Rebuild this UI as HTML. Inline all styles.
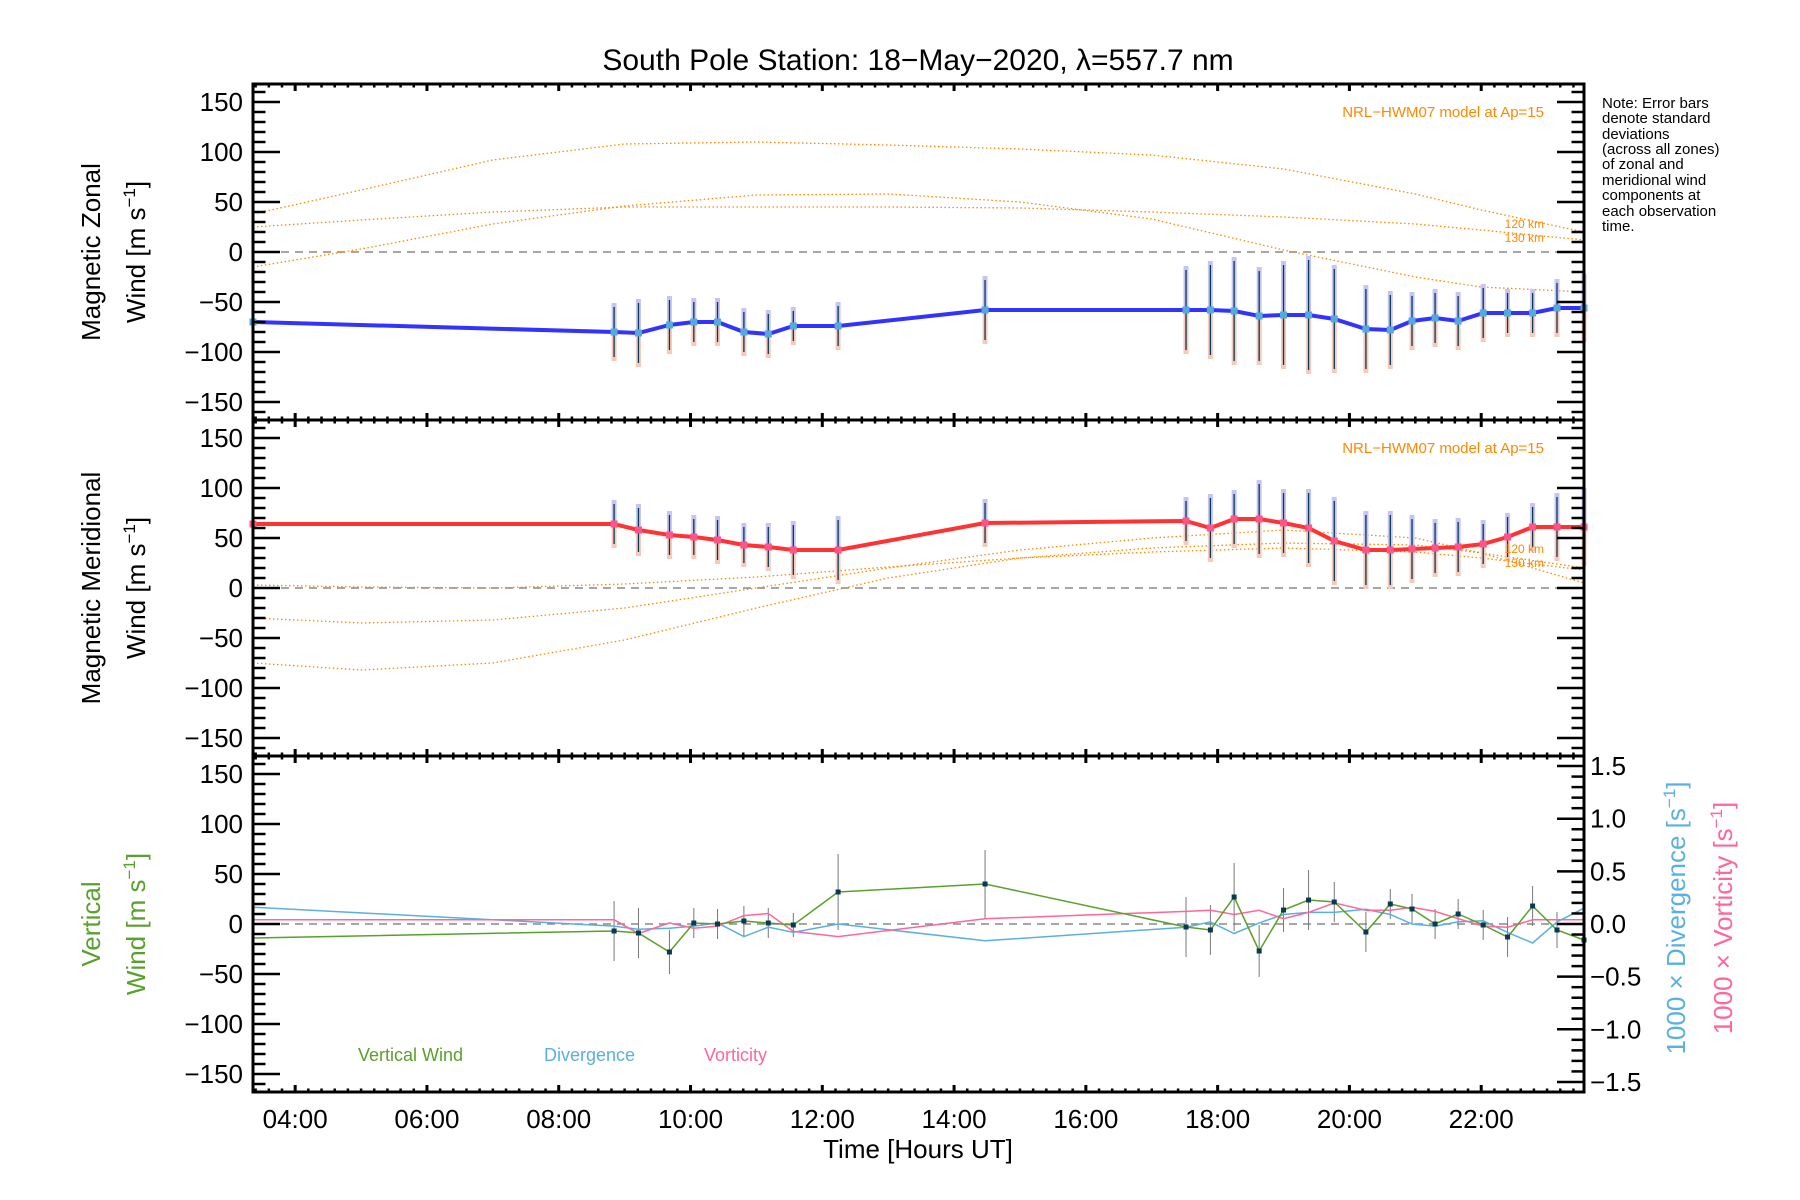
<!DOCTYPE html>
<html><head><meta charset="utf-8"><style>
html,body{margin:0;padding:0;background:#fff}
svg{display:block;font-family:"Liberation Sans",sans-serif}
</style></head><body>
<svg id="chart" xmlns="http://www.w3.org/2000/svg" width="1800" height="1200" viewBox="0 0 1800 1200">
<rect width="1800" height="1200" fill="#fff"/>
<g id="marks"></g>
<g id="axes"></g>
<text x="918" y="70" font-size="30" text-anchor="middle">South Pole Station: 18−May−2020, λ=557.7 nm</text>
<g font-size="15" fill="#000">
<text x="1602" y="108">Note: Error bars</text>
<text x="1602" y="123">denote standard</text>
<text x="1602" y="139">deviations</text>
<text x="1602" y="154">(across all zones)</text>
<text x="1602" y="169">of zonal and</text>
<text x="1602" y="185">meridional wind</text>
<text x="1602" y="200">components at</text>
<text x="1602" y="216">each observation</text>
<text x="1602" y="231">time.</text>
</g>
<text transform="translate(100,252) rotate(-90)" font-size="26" text-anchor="middle">Magnetic Zonal</text>
<text transform="translate(145,252) rotate(-90)" font-size="26" text-anchor="middle">Wind [m s<tspan dy="-10" font-size="17">−1</tspan><tspan dy="10">]</tspan></text>
<text transform="translate(100,588) rotate(-90)" font-size="26" text-anchor="middle">Magnetic Meridional</text>
<text transform="translate(145,588) rotate(-90)" font-size="26" text-anchor="middle">Wind [m s<tspan dy="-10" font-size="17">−1</tspan><tspan dy="10">]</tspan></text>
<text transform="translate(100,924) rotate(-90)" font-size="26" text-anchor="middle" fill="#5aa02c">Vertical</text>
<text transform="translate(145,924) rotate(-90)" font-size="26" text-anchor="middle" fill="#5aa02c">Wind [m s<tspan dy="-10" font-size="17">−1</tspan><tspan dy="10">]</tspan></text>
<text transform="translate(1685,918) rotate(-90)" font-size="26" text-anchor="middle" fill="#5ab0e0">1000 × Divergence [s<tspan dy="-10" font-size="17">−1</tspan><tspan dy="10">]</tspan></text>
<text transform="translate(1732,918) rotate(-90)" font-size="26" text-anchor="middle" fill="#ff6699">1000 × Vorticity [s<tspan dy="-10" font-size="17">−1</tspan><tspan dy="10">]</tspan></text>
<text x="918" y="1158" font-size="26" text-anchor="middle">Time [Hours UT]</text>
<text x="1544" y="117" font-size="15" text-anchor="end" fill="#ff8800">NRL−HWM07 model at Ap=15</text>
<text x="1544" y="453" font-size="15" text-anchor="end" fill="#ff8800">NRL−HWM07 model at Ap=15</text>
<g font-size="12" fill="#ff8800" text-anchor="end">
<text x="1544" y="228">120 km</text><text x="1544" y="242">130 km</text>
<text x="1544" y="553">120 km</text><text x="1544" y="567">130 km</text>
</g>
<text x="358" y="1061" font-size="18" fill="#5aa02c">Vertical Wind</text>
<text x="544" y="1061" font-size="18" fill="#5ab0e0">Divergence</text>
<text x="704" y="1061" font-size="18" fill="#ff6699">Vorticity</text>
</svg>
<script>
// ---- data ----
const hours = [3.36,8.84,9.21,9.68,10.05,10.41,10.81,11.18,11.56,12.24,14.47,17.52,17.89,18.25,18.63,19.0,19.38,19.77,20.25,20.62,20.95,21.3,21.65,22.03,22.4,22.78,23.15,23.56];
const zonal = [-70,-80,-81,-73,-70,-70,-80,-82,-74,-74,-58,-58,-58,-59,-64,-63,-63,-67,-77,-78,-69,-66,-69,-61,-61,-61,-56,-56];
const zonalErr = [30,25,30,25,20,20,20,20,15,20,30,40,45,50,45,50,55,50,40,35,25,25,25,25,20,20,25,30];
const merid = [64,64,58,53,51,48,43,41,38,38,65,67,60,69,69,65,60,47,38,38,39,40,41,44,51,61,61,61];
const meridErr = [30,20,22,20,18,20,18,20,25,30,20,20,30,25,35,30,35,40,35,35,30,25,25,20,20,20,30,35];
const vert = [-14,-7,-9,-28,1,0,3,1,-1,32,40,-3,-6,27,-27,14,24,22,-8,20,15,0,10,-1,-13,18,-6,-16];
const vertErr = [0,30,25,22,15,15,15,15,12,38,34,30,25,34,26,22,30,20,20,15,15,15,15,15,20,20,18,0];
const diverg = [0.16,-0.02,-0.05,-0.04,-0.02,0.01,-0.12,-0.03,-0.08,0,-0.16,-0.03,0.02,-0.09,0.01,0.09,0.11,0.11,0.14,0.09,0,-0.02,0.02,0.03,-0.08,-0.18,0.02,0.15];
const vortic = [0.04,0.04,-0.09,0.01,-0.04,-0.02,0.08,0.1,-0.07,-0.12,0.05,0.12,0.13,0.09,0.13,0.05,0.11,0.2,0.13,0.13,0.16,0.12,0.05,-0.02,-0.03,0.04,0.04,0.04];
const modelHours = [3.36,5,7,9,11,13,15,17,19,21,22,23.56];
const zonalModelA = [38,62,92,108,110,107,103,97,83,58,42,20];
const zonalModelB = [25,32,40,45,45,45,44,40,35,28,22,12];
const zonalModelC = [-15,3,28,46,57,58,50,33,2,-25,-35,-40];
const meridModelD = [3,1,0,4,11,21,30,36,40,36,30,18];
const meridModelE = [-30,-35,-32,-20,0,20,38,50,58,50,35,5];
const meridModelF = [-75,-82,-75,-52,-20,10,30,40,45,43,35,20];
const xTickLabels = ["04:00","06:00","08:00","10:00","12:00","14:00","16:00","18:00","20:00","22:00"];
const yTickLabels = ["−150","−100","−50","0","50","100","150"];
const rTickLabels = ["−1.5","−1.0","−0.5","0.0","0.5","1.0","1.5"];

// ---- geometry ----
const L=253,R=1584,TOPS=[84,420,756],PH=336,XMIN=3.36,XMAX=23.56;
const NS="http://www.w3.org/2000/svg";
const marks=document.getElementById('marks'),axes=document.getElementById('axes');
function X(h){return L+(h-XMIN)/(XMAX-XMIN)*(R-L);}
function Y(p,v){return TOPS[p]+PH/2-v*(PH/2)/168;}
function YR(v){return TOPS[2]+PH/2-v*105.3;}
function mk(tag,attrs,parent){const e=document.createElementNS(NS,tag);for(const k in attrs)e.setAttribute(k,attrs[k]);(parent||marks).appendChild(e);return e;}
function poly(pts,attrs){return mk('polyline',Object.assign({points:pts.map(p=>p[0].toFixed(1)+','+p[1].toFixed(1)).join(' '),fill:'none'},attrs));}

for(let p=0;p<3;p++){
  const z=mk('line',{x1:L,x2:R,y1:Y(p,0),y2:Y(p,0),stroke:'#888','stroke-width':1.5,'stroke-dasharray':'8,6'});
  
  
}
function model(p,arr,name){
  const l=poly(modelHours.map((h,i)=>[X(h),Y(p,arr[i])]),{stroke:'#ff8800','stroke-width':1.3,'stroke-dasharray':'1.5,2.5'});
  
  
}
model(0,zonalModelA,'zonal-model-a');model(0,zonalModelB,'zonal-model-b');model(0,zonalModelC,'zonal-model-c');
model(1,meridModelD,'merid-model-d');model(1,meridModelE,'merid-model-e');model(1,meridModelF,'merid-model-f');

function windBars(p,vals,errs,name){
  hours.forEach((h,i)=>{
    if(i===0)return;
    const x=X(h);
    const b1=mk('line',{x1:x,x2:x,y1:Y(p,vals[i]+errs[i]+4),y2:Y(p,vals[i]),stroke:'#c8c4f2','stroke-width':5});
    
    
    const b2=mk('line',{x1:x,x2:x,y1:Y(p,vals[i]),y2:Y(p,vals[i]-errs[i]-4),stroke:'#f8c8b8','stroke-width':5});
    
    
    const e=mk('line',{x1:x,x2:x,y1:Y(p,vals[i]+errs[i]),y2:Y(p,vals[i]-errs[i]),stroke:'#063a5a','stroke-width':1.3});
    
    
  });
}
windBars(0,zonal,zonalErr,'zonal');
windBars(1,merid,meridErr,'merid');
const zl=poly(hours.map((h,i)=>[X(h),Y(0,zonal[i])]),{stroke:'#3333ff','stroke-width':4});


const ml=poly(hours.map((h,i)=>[X(h),Y(1,merid[i])]),{stroke:'#ff3333','stroke-width':4});


hours.forEach((h,i)=>{
  const a=mk('rect',{x:X(h)-3.5,y:Y(0,zonal[i])-3.5,width:7,height:7,fill:'#55aadd'});
  
  
  const b=mk('rect',{x:X(h)-3.5,y:Y(1,merid[i])-3.5,width:7,height:7,fill:'#ff5588'});
  
  
});

hours.forEach((h,i)=>{
  if(!vertErr[i])return;
  const e=mk('line',{x1:X(h),x2:X(h),y1:Y(2,vert[i]+vertErr[i]),y2:Y(2,vert[i]-vertErr[i]),stroke:'#777','stroke-width':1});
  
  
});
const dl=poly(hours.map((h,i)=>[X(h),YR(diverg[i])]),{stroke:'#5ab0e0','stroke-width':1.5});


const vl=poly(hours.map((h,i)=>[X(h),YR(vortic[i])]),{stroke:'#ff6699','stroke-width':1.5});


const wl=poly(hours.map((h,i)=>[X(h),Y(2,vert[i])]),{stroke:'#5aa02c','stroke-width':1.5});


hours.forEach((h,i)=>{
  if(i===0)return;
  const r=mk('rect',{x:X(h)-2.5,y:Y(2,vert[i])-2.5,width:5,height:5,fill:'#0a3a50'});
  
  
});

function ln(x1,y1,x2,y2,w,name){const e=mk('line',{x1,y1,x2,y2,stroke:'#000','stroke-width':w},axes);return e;}
for(let p=0;p<3;p++){
  const t=TOPS[p],b=t+PH;
  const fr=mk('rect',{x:L,y:t,width:R-L,height:PH,fill:'none',stroke:'#000','stroke-width':3},axes);
  
  
  for(let k=0;k<=100;k++){
    const h=3.4+k*0.2; if(h>XMAX)break;
    const major=Math.abs((h-4)/2-Math.round((h-4)/2))<1e-6 && h>=3.9;
    const len=major?7:3.5,x=X(h);
    ln(x,t,x,t+len,major?3:2.5,'x-tick');
    ln(x,b,x,b-len,major?3:2.5,'x-tick');
  }
  for(let v=-160;v<=160;v+=10){
    const major=v%50===0,len=major?27:12.5,y=Y(p,v);
    ln(L,y,L+len,y,2.5,'y-tick');
    if(p<2) ln(R,y,R-len,y,2.5,'y-tick-right');
    if(major){
      const tx=mk('text',{x:243,y:y+9,'font-size':26,'text-anchor':'end'},axes);
      tx.textContent=yTickLabels[(v+150)/50];
      
      
    }
  }
}
for(let k=-15;k<=15;k++){
  const v=k/10,major=k%5===0,len=major?27:12.5,y=YR(v);
  ln(R,y,R-len,y,2.5,'right-tick');
  if(major){
    const tx=mk('text',{x:1590,y:y+9,'font-size':26},axes);
    tx.textContent=rTickLabels[(k+15)/5];
    
    
  }
}
xTickLabels.forEach((s,i)=>{
  const tx=mk('text',{x:X(4+2*i),y:1128,'font-size':26,'text-anchor':'middle'},axes);
  tx.textContent=s;
  
  
});
</script>
</body></html>
